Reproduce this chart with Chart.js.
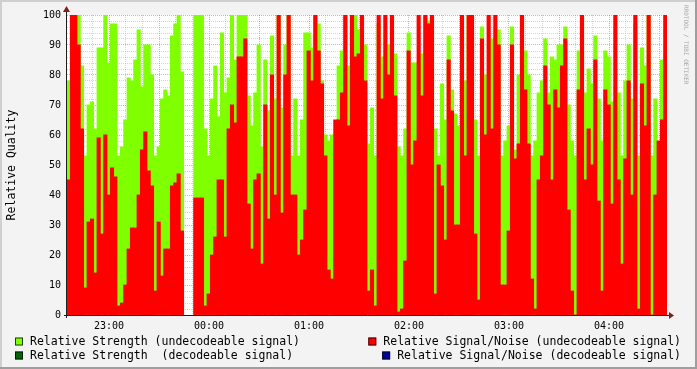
<!DOCTYPE html>
<html>
<head>
<meta charset="utf-8">
<script src="https://cdn.jsdelivr.net/npm/chart.js@4/dist/chart.umd.min.js"></script>
<style>
  html, body { margin: 0; padding: 0; background: #f3f3f3; }
  canvas { display: block; }
</style>
</head>
<body>
<canvas id="qualityChart" width="697" height="369"></canvas>
<script>
/* ========================================================================= */
/*	Relative Quality graph (RRD style): strength + signal/noise bars
/* ========================================================================= */

// time axis: minutes after 22:00, one sample every 2 minutes
const startMinute = 34.8;
const stepMinutes = 2;
const hourTicks = [60, 120, 180, 240, 300, 360];
const hourLabels = ['23:00', '00:00', '01:00', '02:00', '03:00', '04:00'];

// Relative Strength (undecodeable signal), null = no data
const strength = [
    78, 100, 100, 100, 83, 53, 70, 71, 62, 89,
    89, 100, 84, 97, 97, 53, 56, 65, 79, 78,
    85, 95, 76, 90, 90, 80, 53, 56, 72, 75,
    73, 93, 97, 100, 81, null, null, null, 100, 100,
    100, 62, 53, 72, 83, 66, 94, 74, 79, 100,
    85, 100, 100, 100, 73, 63, 74, 90, 56, 85,
    68, 93, 72, 100, 69, 90, 100, 53, 72, 53,
    65, 94, 94, 89, 100, 97, 78, 60, 58, 60,
    53, 83, 88, 100, 83, 100, 100, 95, 90, 90,
    57, 69, 53, 97, 86, 62, 90, 100, 87, 56,
    53, 62, 94, 84, 84, 64, 87, 100, 98, 100,
    62, 53, 77, 65, 93, 75, 67, 63, 95, 78,
    100, 100, 65, 53, 96, 80, 63, 92, 82, 95,
    53, 58, 63, 96, 55, 80, 100, 88, 80, 53,
    58, 74, 78, 92, 74, 86, 85, 90, 90, 96,
    70, 58, 53, 88, 100, 74, 82, 77, 93, 72,
    58, 88, 86, 71, 53, 74, 53, 78, 90, 72,
    97, 53, 89, 83, 100, 53, 72, 57, 85, 100
];

// Relative Signal/Noise (undecodeable signal)
const snr = [
    45, 100, 100, 90, 62, 9, 31, 32, 14, 59,
    27, 60, 40, 49, 46, 3, 4, 10, 22, 29,
    29, 40, 55, 61, 48, 43, 8, 31, 13, 22,
    22, 43, 44, 47, 28, null, null, null, 39, 39,
    39, 3, 7, 20, 26, 45, 45, 26, 62, 70,
    64, 86, 86, 92, 37, 22, 45, 47, 17, 70,
    32, 80, 40, 100, 34, 80, 100, 40, 40, 20,
    25, 35, 88, 78, 100, 88, 77, 53, 15, 12,
    65, 65, 74, 100, 63, 100, 86, 87, 100, 78,
    8, 15, 3, 100, 72, 100, 80, 100, 73, 1,
    2, 18, 88, 50, 58, 100, 73, 100, 97, 100,
    7, 50, 43, 25, 85, 68, 30, 30, 100, 53,
    100, 100, 27, 5, 92, 60, 100, 62, 100, 90,
    10, 10, 28, 90, 52, 57, 100, 75, 57, 12,
    2, 45, 53, 83, 70, 45, 75, 69, 83, 92,
    35, 8, 0, 75, 100, 45, 62, 50, 85, 38,
    8, 75, 70, 37, 100, 45, 17, 52, 78, 40,
    100, 2, 77, 63, 100, 0, 40, 58, 65, 100
];

// decodeable series: no samples in this window
const strengthDecoded = [];
const snrDecoded = [];

const yMax = 100;
const yMinorStep = 2;
const yMajorStep = 10;
const xMinorStep = 10;
const xMajorStep = 30;

function toPoints(values) {
    return values.map((v, i) => ({ x: startMinute + stepMinutes * (i + 0.5), y: v }));
}

const FONT = "'DejaVu Sans Mono', monospace";
Chart.defaults.font.family = FONT;
Chart.defaults.color = '#000';

const rrdFrame = {
    id: 'rrdFrame',
    beforeDraw(chart) {
        const { ctx, chartArea: a, width, height } = chart;
        ctx.save();
        ctx.fillStyle = '#f3f3f3';
        ctx.fillRect(0, 0, width, height);
        // 3d frame
        ctx.fillStyle = '#cfcfcf';
        ctx.fillRect(0, 0, width, 2);
        ctx.fillRect(0, 0, 2, height);
        ctx.fillStyle = '#9e9e9e';
        ctx.fillRect(0, height - 2, width, 2);
        ctx.fillRect(width - 2, 0, 2, height);
        ctx.fillStyle = '#ffffff';
        ctx.fillRect(a.left, a.top, a.right - a.left, a.bottom - a.top);
        ctx.restore();
    },
    afterDraw(chart) {
        const { ctx, chartArea: a } = chart;
        ctx.save();
        // axes
        ctx.strokeStyle = '#1f1f1f';
        ctx.lineWidth = 1;
        ctx.beginPath();
        ctx.moveTo(a.left - 3, a.bottom + 0.5);
        ctx.lineTo(a.right + 4, a.bottom + 0.5);
        ctx.moveTo(a.left - 0.5, a.bottom + 3);
        ctx.lineTo(a.left - 0.5, a.top - 5);
        ctx.stroke();
        // arrows
        ctx.fillStyle = '#7f1f1f';
        ctx.beginPath();
        ctx.moveTo(a.right + 2, a.bottom - 3);
        ctx.lineTo(a.right + 7, a.bottom + 0.5);
        ctx.lineTo(a.right + 2, a.bottom + 4);
        ctx.closePath();
        ctx.fill();
        ctx.beginPath();
        ctx.moveTo(a.left - 4, a.top - 3);
        ctx.lineTo(a.left - 0.5, a.top - 9);
        ctx.lineTo(a.left + 3, a.top - 3);
        ctx.closePath();
        ctx.fill();
        // y title
        ctx.fillStyle = '#000';
        ctx.font = '11.5px ' + FONT;
        ctx.textAlign = 'center';
        ctx.textBaseline = 'middle';
        ctx.translate(12, (a.top + a.bottom) / 2);
        ctx.rotate(-Math.PI / 2);
        ctx.fillText('Relative Quality', 0, 0);
        ctx.restore();

        // watermark
        ctx.save();
        ctx.fillStyle = '#a8a8a8';
        ctx.font = '6px ' + FONT;
        ctx.textAlign = 'left';
        ctx.textBaseline = 'middle';
        ctx.translate(686, 5);
        ctx.rotate(Math.PI / 2);
        ctx.fillText('RRDTOOL / TOBI OETIKER', 0, 0);
        ctx.restore();

        // legend: two rows, first item left, second item right-justified
        const ds = chart.data.datasets;
        const rows = [[ds[0], ds[2]], [ds[1], ds[3]]];
        const rowY = [341.5, 355.5];
        const left = 15, right = 681;
        ctx.save();
        ctx.font = '11.5px ' + FONT;
        ctx.textBaseline = 'middle';
        ctx.textAlign = 'left';
        rows.forEach((row, r) => {
            const y = rowY[r];
            row.forEach((d, k) => {
                const tw = ctx.measureText(d.label).width;
                const tx = k === 0 ? left + 15 : right - tw;
                const bx = tx - 15;
                ctx.fillStyle = d.backgroundColor;
                ctx.fillRect(bx, y - 4, 8, 8);
                ctx.strokeStyle = 'rgba(0,0,0,0.75)';
                ctx.lineWidth = 1;
                ctx.strokeRect(bx + 0.5, y - 3.5, 7, 7);
                ctx.fillStyle = '#000';
                ctx.fillText(d.label, tx, y + 0.5);
            });
        });
        ctx.restore();
    }
};

function gridColor(ctx, major) {
    const v = ctx.tick ? ctx.tick.value : 0;
    return Math.abs(v % major) < 1e-6 ? 'rgba(222,79,79,0.5)' : 'rgba(143,143,143,0.38)';
}

new Chart(document.getElementById('qualityChart').getContext('2d'), {
    type: 'bar',
    data: {
        datasets: [
            { label: 'Relative Strength (undecodeable signal)', data: toPoints(strength), backgroundColor: '#80ff00', order: 2 },
            { label: 'Relative Strength  (decodeable signal)', data: toPoints(strengthDecoded), backgroundColor: '#006600', order: 4 },
            { label: 'Relative Signal/Noise (undecodeable signal)', data: toPoints(snr), backgroundColor: '#ff0000', order: 1 },
            { label: 'Relative Signal/Noise (decodeable signal)', data: toPoints(snrDecoded), backgroundColor: '#000099', order: 3 }
        ]
    },
    options: {
        responsive: false,
        animation: false,
        events: [],
        layout: { padding: { left: 0, right: 30, top: 15, bottom: 0 } },
        datasets: {
            bar: {
                grouped: false,
                barPercentage: 1,
                categoryPercentage: 1,
                borderWidth: 0,
                inflateAmount: 0.4
            }
        },
        scales: {
            x: {
                type: 'linear',
                min: startMinute,
                max: startMinute + 360,
                offset: false,
                z: 1,
                afterBuildTicks(scale) {
                    const t = [];
                    for (let v = Math.ceil(startMinute / xMinorStep) * xMinorStep; v <= startMinute + 360; v += xMinorStep) t.push({ value: v });
                    scale.ticks = t;
                },
                afterFit(scale) { scale.height = 54; },
                grid: {
                    offset: false,
                    drawTicks: false,
                    color: (c) => gridColor(c, xMajorStep)
                },
                border: { display: false, dash: [1, 1] },
                ticks: {
                    autoSkip: false,
                    maxRotation: 0,
                    padding: 5,
                    font: { size: 10 },
                    callback(v) {
                        const i = hourTicks.indexOf(v);
                        return i >= 0 ? hourLabels[i] : '';
                    }
                }
            },
            y: {
                min: 0,
                max: yMax,
                z: 1,
                afterBuildTicks(scale) {
                    const t = [];
                    for (let v = 0; v <= yMax; v += yMinorStep) t.push({ value: v });
                    scale.ticks = t;
                },
                afterFit(scale) { scale.width = 67; },
                grid: {
                    drawTicks: false,
                    color: (c) => gridColor(c, yMajorStep)
                },
                border: { display: false, dash: [1, 1] },
                ticks: {
                    autoSkip: false,
                    padding: 6,
                    font: { size: 10 },
                    callback(v) { return v % yMajorStep === 0 ? String(v) : ''; }
                }
            }
        },
        plugins: {
            legend: { display: false },
            tooltip: { enabled: false }
        }
    },
    plugins: [rrdFrame]
});
</script>
</body>
</html>
